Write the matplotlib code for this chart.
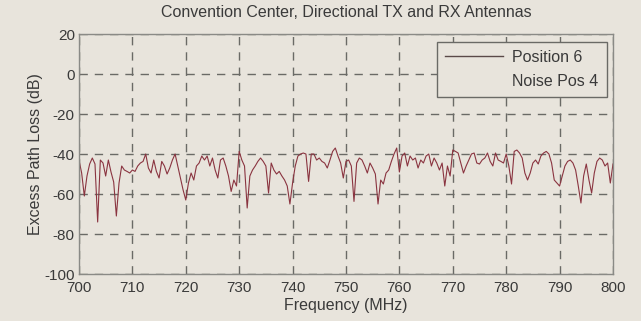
import numpy as np
import matplotlib
matplotlib.use('Agg')
import matplotlib.pyplot as plt

# Excess path loss (dB) read at 0.5 MHz steps, 700..800 MHz
freq_mhz = np.arange(700, 800.5, 0.5)
loss_pos6 = [
    -43, -49.5, -61, -51, -45, -42, -45, -74, -43, -44.5,
    -51, -43, -49, -54, -71, -54.5, -46, -48, -48.7, -49.5,
    -48, -48.7, -46, -44.5, -43.7, -40, -47, -49.5, -43, -48.7,
    -52, -43.7, -46, -50, -47, -43, -40, -46, -52, -58,
    -63, -54.5, -49.5, -53, -46, -44.5, -41, -43, -41, -46,
    -42, -48, -52, -43, -42, -46, -51, -58.7, -53, -56,
    -38.7, -43, -46, -67, -51, -48, -46, -43.7, -42, -43.7,
    -46, -59.5, -44.5, -48, -50, -48.7, -51, -53, -56, -65,
    -54.5, -46, -41, -40, -39.5, -40, -53.7, -40, -40, -43,
    -42, -43.7, -44.5, -47, -43, -38.7, -37, -41, -44.5, -52,
    -43.7, -43, -46, -63.7, -44.5, -42, -43, -46, -49.5, -44.5,
    -47, -50, -65, -53, -55, -49.5, -48, -43.7, -40, -37,
    -49, -41, -39.5, -46, -41, -43, -42, -47, -43, -44.5,
    -41, -40, -46, -42, -44.5, -48, -44.5, -56, -46, -51,
    -38, -38.7, -39.5, -44.5, -49.5, -46, -43, -40, -39.5, -44.5,
    -45, -43, -42, -39.5, -43.7, -46, -39.5, -43, -43.7, -44.5,
    -40, -46, -55, -38.7, -38, -39.5, -42, -49.5, -53, -49.5,
    -44.5, -43, -45, -41, -39.5, -38.7, -40, -44.5, -53, -54.5,
    -56, -51, -46, -43.7, -43, -44.5, -48, -56, -64.5, -51,
    -45, -53, -59.5, -49.5, -43.7, -42, -43, -46, -44.5, -54.5,
    -45,
]
series_labels = ['Position 6', 'Noise Pos 4']
x_ticks = list(range(700, 801, 10))
y_ticks = list(range(-100, 21, 20))

bg = '#e8e4dc'
txt = '#3a3a3a'
plt.rcParams['font.family'] = ['Liberation Sans', 'DejaVu Sans']
plt.rcParams['axes.unicode_minus'] = False

fig = plt.figure(figsize=(6.41, 3.21), dpi=100, facecolor=bg)
ax = fig.add_axes([0.1232, 0.1464, 0.8331, 0.7476], facecolor=bg)

ax.plot(freq_mhz, loss_pos6, color='#8a3440', linewidth=0.8, label=series_labels[0])
# second series has no visible trace in the reference, only a legend entry
ax.plot([], [], color='none', label=series_labels[1])

ax.set_xlim(700, 800)
ax.set_ylim(-100, 20)
ax.set_xticks(x_ticks)
ax.set_yticks(y_ticks)
ax.tick_params(length=0, labelsize=11, colors=txt)
ax.tick_params(axis='x', pad=5)
ax.tick_params(axis='y', pad=3)
ax.grid(True, color='#6a6a66', linestyle=(0, (6, 5)), linewidth=1.0)
for sp in ax.spines.values():
    sp.set_color('#8a8a86')
    sp.set_linewidth(1.0)

ax.set_xlabel('Frequency (MHz)', fontsize=11.5, color=txt, labelpad=2)
ax.set_ylabel('Excess Path Loss (dB)', fontsize=11.5, color=txt, labelpad=1)
ax.set_title('Convention Center, Directional TX and RX Antennas',
             fontsize=11.5, color=txt, pad=12)

leg = ax.legend(loc='upper right', fontsize=11.5, frameon=True, fancybox=False,
                handlelength=3.6, handletextpad=0.6, borderpad=0.5,
                labelspacing=0.55, borderaxespad=0,
                bbox_to_anchor=(0.988, 0.967))
leg.get_frame().set_facecolor(bg)
leg.get_frame().set_edgecolor('#6a6a66')
leg.get_frame().set_alpha(1)
for line in leg.get_lines():
    line.set_linewidth(1.0)
leg.get_lines()[0].set_color('#5a4a48')
for t in leg.get_texts():
    t.set_color(txt)

fig.savefig('out.png', dpi=100, facecolor=bg)
